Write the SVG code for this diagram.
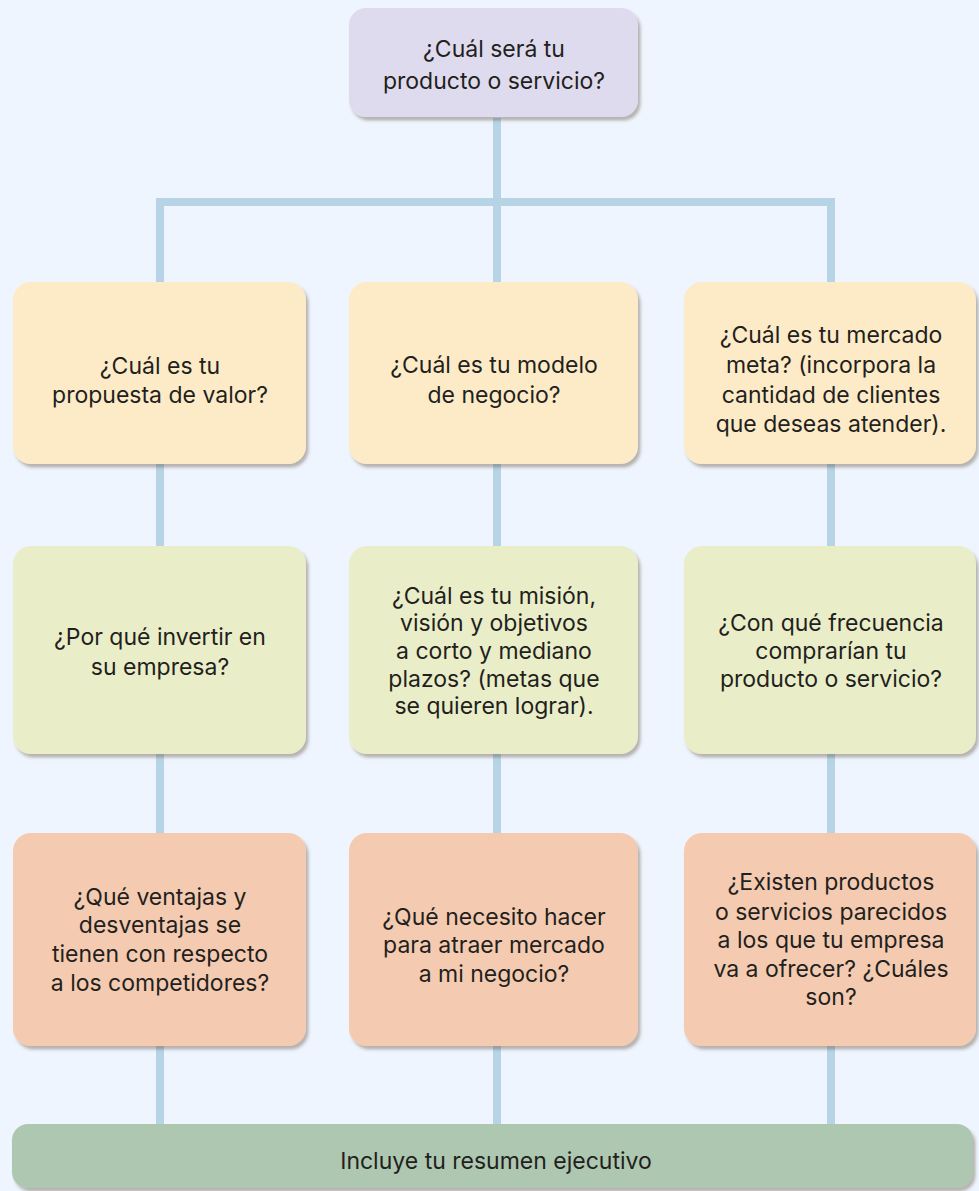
<svg xmlns="http://www.w3.org/2000/svg" width="979" height="1191" viewBox="0 0 979 1191">
  <style>
    .t { font-family: Inter, "Open Sans", "Liberation Sans", sans-serif; font-size: 23px; fill: #231f20; text-anchor: middle; }
    .box { filter: url(#sh); }
    .lav { fill: #dfdbef; }
    .yel { fill: #fdebc7; }
    .grn { fill: #eaeec8; }
    .sal { fill: #f4cbb0; }
    .bar { fill: #aec7b0; }
    .con { stroke: #b6d4e5; stroke-width: 8; fill: none; }
  </style>
  <defs>
    <filter id="sh" x="-5%" y="-5%" width="115%" height="120%">
      <feDropShadow dx="2.5" dy="3.5" stdDeviation="1.6" flood-color="#5a4a30" flood-opacity="0.38"/>
    </filter>
  </defs>
  <rect width="979" height="1191" fill="#eef5fe"/>

  <g id="connectors">
    <path class="con" d="M497 118 V202"/>
    <path class="con" d="M156 202 H835"/>
    <path class="con" d="M160 198 V1126"/>
    <path class="con" d="M497 202 V1126"/>
    <path class="con" d="M831 198 V1126"/>
  </g>

  <g id="n-top">
    <rect class="box lav" x="349" y="8" width="289" height="109" rx="17"/>
    <text class="t" x="494"><tspan x="494" y="57">¿Cuál será tu</tspan><tspan x="494" y="89">producto o servicio?</tspan></text>
  </g>

  <g id="n-valor">
    <rect class="box yel" x="13" y="282" width="293" height="182" rx="18"/>
    <text class="t"><tspan x="160" y="374">¿Cuál es tu</tspan><tspan x="160" y="403">propuesta de valor?</tspan></text>
  </g>
  <g id="n-modelo">
    <rect class="box yel" x="349" y="282" width="289" height="182" rx="18"/>
    <text class="t"><tspan x="494" y="373">¿Cuál es tu modelo</tspan><tspan x="494" y="403">de negocio?</tspan></text>
  </g>
  <g id="n-mercado">
    <rect class="box yel" x="684" y="282" width="292" height="182" rx="18"/>
    <text class="t"><tspan x="831" y="343">¿Cuál es tu mercado</tspan><tspan x="831" y="373">meta? (incorpora la</tspan><tspan x="831" y="403">cantidad de clientes</tspan><tspan x="831" y="432">que deseas atender).</tspan></text>
  </g>

  <g id="n-invertir">
    <rect class="box grn" x="13" y="546" width="293" height="208" rx="18"/>
    <text class="t"><tspan x="160" y="645">¿Por qué invertir en</tspan><tspan x="160" y="675">su empresa?</tspan></text>
  </g>
  <g id="n-mision">
    <rect class="box grn" x="349" y="546" width="289" height="208" rx="18"/>
    <text class="t"><tspan x="494" y="604">¿Cuál es tu misión,</tspan><tspan x="494" y="631">visión y objetivos</tspan><tspan x="494" y="659">a corto y mediano</tspan><tspan x="494" y="687">plazos? (metas que</tspan><tspan x="494" y="714">se quieren lograr).</tspan></text>
  </g>
  <g id="n-frecuencia">
    <rect class="box grn" x="684" y="546" width="292" height="208" rx="18"/>
    <text class="t"><tspan x="831" y="631">¿Con qué frecuencia</tspan><tspan x="831" y="659">comprarían tu</tspan><tspan x="831" y="687">producto o servicio?</tspan></text>
  </g>

  <g id="n-ventajas">
    <rect class="box sal" x="13" y="833" width="293" height="213" rx="18"/>
    <text class="t"><tspan x="160" y="905">¿Qué ventajas y</tspan><tspan x="160" y="933">desventajas se</tspan><tspan x="160" y="962">tienen con respecto</tspan><tspan x="160" y="991">a los competidores?</tspan></text>
  </g>
  <g id="n-atraer">
    <rect class="box sal" x="349" y="833" width="289" height="213" rx="18"/>
    <text class="t"><tspan x="494" y="925">¿Qué necesito hacer</tspan><tspan x="494" y="953">para atraer mercado</tspan><tspan x="494" y="982">a mi negocio?</tspan></text>
  </g>
  <g id="n-competencia">
    <rect class="box sal" x="684" y="833" width="292" height="213" rx="18"/>
    <text class="t"><tspan x="831" y="890">¿Existen productos</tspan><tspan x="831" y="920">o servicios parecidos</tspan><tspan x="831" y="948">a los que tu empresa</tspan><tspan x="831" y="977">va a ofrecer? ¿Cuáles</tspan><tspan x="831" y="1005">son?</tspan></text>
  </g>

  <g id="n-resumen">
    <rect class="box bar" x="12" y="1124" width="961" height="64" rx="16"/>
    <text class="t" x="496" y="1169">Incluye tu resumen ejecutivo</text>
  </g>
</svg>
